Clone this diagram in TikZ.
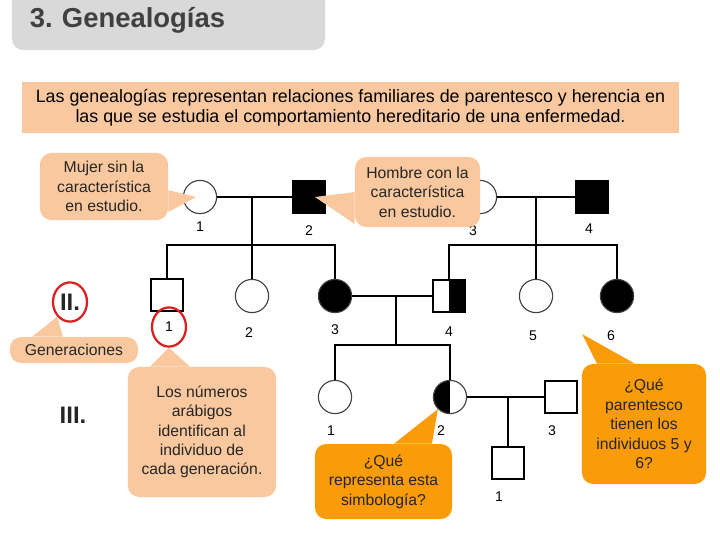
\documentclass[tikz,border=0pt]{standalone}
\usepackage{fontspec}
\setmainfont{Liberation Sans}
\usepackage{tikz}
\usetikzlibrary{positioning,shapes.geometric}

\definecolor{durazno}{RGB}{250,200,158}
\definecolor{naranja}{RGB}{250,155,10}
\definecolor{grisclaro}{RGB}{217,217,217}
\definecolor{grisoscuro}{RGB}{64,64,64}
\definecolor{rojo}{RGB}{220,30,30}

\begin{document}
\begin{tikzpicture}[x=0.025cm, y=-0.025cm, node distance=0.8cm]
    % Estilos del arbol genealogico
    \tikzset{
        mujer/.style={draw=black!75, circle, minimum size=0.83cm, inner sep=0pt, line width=0.8pt},
        hombre/.style={draw, rectangle, minimum size=0.8cm, inner sep=0pt, line width=0.8pt},
        afectado/.style={fill=black},
        mitadder/.style={path picture={\fill[black] (path picture bounding box.north) rectangle (path picture bounding box.south east);}},
        mitadizq/.style={path picture={\fill[black] (path picture bounding box.south west) rectangle (path picture bounding box.north);}},
        num/.style={font=\fontsize{10}{12}\selectfont},
        gen/.style={font=\fontsize{17}{20}\selectfont\bfseries, text=black!85},
        circrojo/.style={draw=rojo, ellipse, line width=1.6pt, minimum width=0.85cm, minimum height=0.98cm, inner sep=0pt},
        nota/.style={fill=durazno, rounded corners=8pt, align=center, inner sep=2pt, text=black!85, font=\fontsize{11.2}{13.8}\selectfont},
        pregunta/.style={nota, fill=naranja},
        enlace/.style={line width=0.9pt}
    }
    \useasboundingbox (0,0) rectangle (720,540);

    % Titulo e introduccion
    \node[fill=grisclaro, rounded corners=8pt, minimum width=7.825cm, minimum height=1.5cm, text width=6.925cm, inner xsep=0.45cm, align=left, text=grisoscuro, font=\fontsize{19.5}{22}\selectfont\bfseries] (titulo) at (168.5,20) {3.\ Genealogías};
    \node[fill=durazno, minimum width=16.425cm, minimum height=1.275cm, align=center, font=\fontsize{12.7}{14.2}\selectfont] (intro) at (350.5,107.5) {Las genealogías representan relaciones familiares de parentesco y herencia en\\las que se estudia el comportamiento hereditario de una enfermedad.};

    % Generacion I
    \node[mujer] (a1) at (200,197) {};
    \node[hombre, afectado] (a2) at (309,197) {};
    \node[mujer] (a3) at (480,197) {};
    \node[hombre, afectado] (a4) at (592,197) {};
    \node[num, below of=a1, yshift=0.05cm] {1};
    \node[num, below of=a2, yshift=-0.05cm] {2};
    \node[num, below of=a3, xshift=-0.175cm, yshift=-0.05cm] {3};
    \node[num, below of=a4, xshift=-0.075cm] {4};

    % Generacion II
    \node[hombre] (b1) at (167,295) {};
    \node[mujer] (b2) at (252,296) {};
    \node[mujer, afectado] (b3) at (335,296) {};
    \node[hombre, mitadder] (b4) at (449,296) {};
    \node[mujer] (b5) at (536,296) {};
    \node[mujer, afectado] (b6) at (617,296) {};
    \node[num, circrojo, below of=b1, xshift=0.05cm] (nb1) {1};
    \node[num, below of=b2, xshift=-0.075cm, yshift=-0.12cm] {2};
    \node[num, below of=b3, yshift=-0.05cm] {3};
    \node[num, below of=b4, yshift=-0.08cm] {4};
    \node[num, below of=b5, xshift=-0.075cm, yshift=-0.2cm] {5};
    \node[num, below of=b6, xshift=-0.15cm, yshift=-0.18cm] {6};

    % Generacion III
    \node[mujer] (c1) at (335,397) {};
    \node[mujer, mitadizq] (c2) at (450,397) {};
    \node[hombre] (c3) at (561,397) {};
    \node[hombre] (d1) at (508,463) {};
    \node[num, below of=c1, xshift=-0.1cm, yshift=-0.03cm] {1};
    \node[num, below of=c2, xshift=-0.225cm, yshift=-0.03cm] {2};
    \node[num, below of=c3, xshift=-0.225cm, yshift=-0.05cm] {3};
    \node[num, below of=d1, xshift=-0.225cm, yshift=-0.03cm] {1};

    % Numeros romanos
    \node[gen, circrojo] (g2) at (70,302) {II.};
    \node[gen] (g3) at (73,415) {III.};

    % Uniones y descendencia
    \coordinate (u1) at (252,197);
    \coordinate (h1) at (252,245);
    \coordinate (u2) at (536,197);
    \coordinate (h2) at (536,245);
    \coordinate (u3) at (396,296);
    \coordinate (h3) at (396,345);
    \coordinate (u4) at (508,397);
    \draw[enlace] (a1) -- (a2);
    \draw[enlace] (u1) -- (b2);
    \draw[enlace] (b1) |- (h1) -| (b3);
    \draw[enlace] (a3) -- (a4);
    \draw[enlace] (u2) -- (b5);
    \draw[enlace] (b4) |- (h2) -| (b6);
    \draw[enlace] (b3) -- (b4);
    \draw[enlace] (u3) -- (h3);
    \draw[enlace] (c1) |- (h3) -| (c2);
    \draw[enlace] (c2) -- (c3);
    \draw[enlace] (u4) -- (d1);

    % Globos de texto
    \node[nota, minimum width=3.2cm, minimum height=1.675cm] (notamujer) at (104,186.5) {Mujer sin la\\característica\\en estudio.};
    \fill[durazno] ([yshift=-0.09cm]notamujer.east) -- ([xshift=-0.1cm]a1.center) -- ([yshift=-0.64cm]notamujer.east) -- cycle;
    \node[nota, minimum width=3.125cm, minimum height=1.75cm] (notahombre) at (417.5,192) {Hombre con la\\característica\\en estudio.};
    \fill[durazno] (notahombre.west) -- ([xshift=0.15cm]a2.center) -- ([yshift=-0.8cm]notahombre.west) -- cycle;
    \node[nota, minimum width=3.2cm, minimum height=0.65cm] (notagen) at (74,350) {Generaciones};
    \fill[durazno] ([xshift=-1.05cm]notagen.north) -- (g2.south west) -- ([xshift=-0.275cm]notagen.north) -- cycle;
    \node[nota, minimum width=3.7cm, minimum height=3.25cm] (notanum) at (202,432) {Los números\\arábigos\\identifican al\\individuo de\\cada generación.};
    \fill[durazno] ([xshift=-1.3cm]notanum.north) -- (nb1.south) -- ([xshift=-0.3cm]notanum.north) -- cycle;
    \node[pregunta, minimum width=3.425cm, minimum height=1.875cm] (notasimb) at (383.5,481.5) {¿Qué\\representa esta\\simbología?};
    \fill[naranja] ([xshift=0.26cm]notasimb.north) -- (c2.south west) -- ([xshift=1.21cm]notasimb.north) -- cycle;
    \node[pregunta, minimum width=3.1cm, minimum height=3cm] (notaparent) at (644,424) {¿Qué\\parentesco\\tienen los\\individuos 5 y\\6?};
    \coordinate (punta) at (582,334);
    \fill[naranja] ([xshift=-1.175cm]notaparent.north) -- (punta) -- ([xshift=-0.225cm]notaparent.north) -- cycle;
\end{tikzpicture}
\end{document}
